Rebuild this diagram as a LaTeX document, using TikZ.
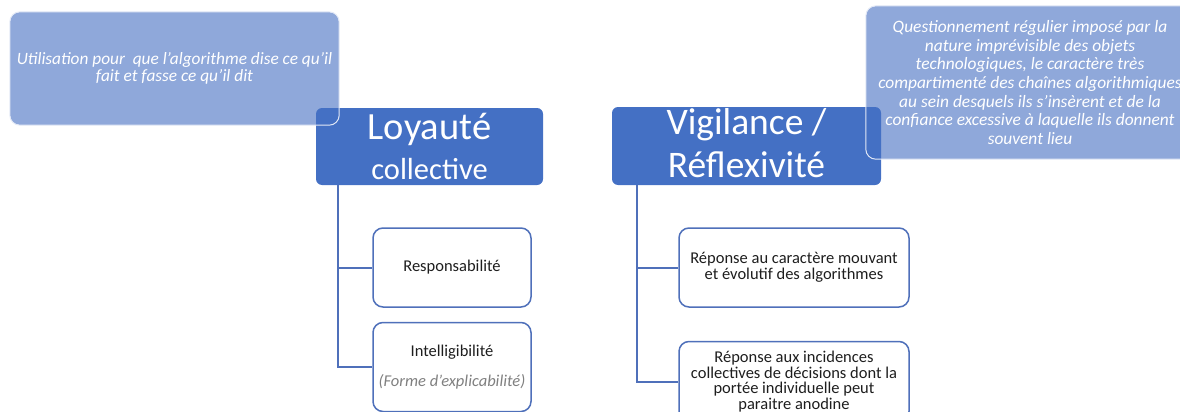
\documentclass[tikz,border=0pt]{standalone}
\usepackage{fontspec}
\setmainfont{Carlito}
\usetikzlibrary{positioning,calc}
\definecolor{hdrblue}{HTML}{4470C4}
\definecolor{noteblue}{HTML}{8FA8DA}
\definecolor{linkblue}{HTML}{4F70BA}
\definecolor{txtgray}{HTML}{1E1E1E}

\begin{document}
\begin{tikzpicture}[x=1pt, y=-1pt,
  headbox/.style={fill=hdrblue, draw=none, rounded corners=6pt, text=white, align=center, inner sep=0pt},
  leafbox/.style={fill=white, draw=linkblue, line width=1.5pt, rounded corners=10pt, text=txtgray,
    align=center, inner sep=0pt, minimum width=158pt, minimum height=79pt, font=\fontsize{16.5}{16.5}\selectfont},
  notebox/.style={fill=noteblue, draw=none, rounded corners=10pt, text=white, align=center, inner sep=0pt},
  noteline/.style={draw=white!75!noteblue, line width=1pt, rounded corners=10pt},
  link/.style={draw=linkblue, line width=2pt},
]
% page: 1180 x 412, one unit = one pixel, y downwards
\useasboundingbox (0,0) rectangle (1180,412);

% notes behind the headers
\node[notebox, minimum width=329pt, minimum height=113pt, font=\itshape\fontsize{17.3}{16.5}\selectfont]
  (noteL) at (174.5,68.5) {Utilisation pour\ \ que l’algorithme dise ce qu’il\\fait et fasse ce qu’il dit};
\node[notebox, minimum width=328pt, minimum height=153pt, font=\itshape\fontsize{17.4}{18.6}\selectfont]
  (noteR) at (1030,82.5) {Questionnement régulier imposé par la\\nature imprévisible des objets\\
  technologiques, le caractère très\\compartimenté des chaînes algorithmiques\\
  au sein desquels ils s’insèrent et de la\\confiance excessive à laquelle ils donnent\\souvent lieu};

% headers
\node[headbox, minimum width=227pt, minimum height=77pt, font=\fontsize{38.5}{40}\selectfont, text depth=0pt]
  (loyal) at (429.5,146.5) {Loyauté\\\fontsize{30.5}{40}\selectfont collective};
\node[headbox, minimum width=269pt, minimum height=78pt, font=\fontsize{37.5}{43}\selectfont, text depth=7pt]
  (vigil) at (746.5,146) {Vigilance /\\Réflexivité};

% leaves
\node[leafbox] (resp) at (452,267.5) {Responsabilité};
\node[leafbox, minimum height=89pt, below=14pt of resp] (intel)
  {Intelligibilité\\[14pt]{\color{black!50}\itshape (Forme d’explicabilité)}};
\node[leafbox, minimum width=230pt] (rep1) at (794,267.5) {Réponse au caractère mouvant\\et évolutif des algorithmes};
\node[leafbox, minimum width=230pt, minimum height=80pt, below=33pt of rep1, font=\fontsize{16.5}{15.8}\selectfont] (rep2)
  {Réponse aux incidences\\collectives de décisions dont la\\portée individuelle peut\\paraitre anodine};

% connectors
\coordinate (trunkL) at ($(loyal.south west)+(22,0)$);
\coordinate (trunkR) at ($(vigil.south west)+(25,0)$);
\foreach \leaf in {resp,intel} \draw[link] (trunkL) |- (\leaf.west);
\foreach \leaf in {rep1,rep2} \draw[link] (trunkR) |- (\leaf.west);

% note outlines over the headers
\draw[noteline] (noteL.south west) rectangle (noteL.north east);
\draw[noteline] (noteR.south west) rectangle (noteR.north east);
\end{tikzpicture}
\end{document}
